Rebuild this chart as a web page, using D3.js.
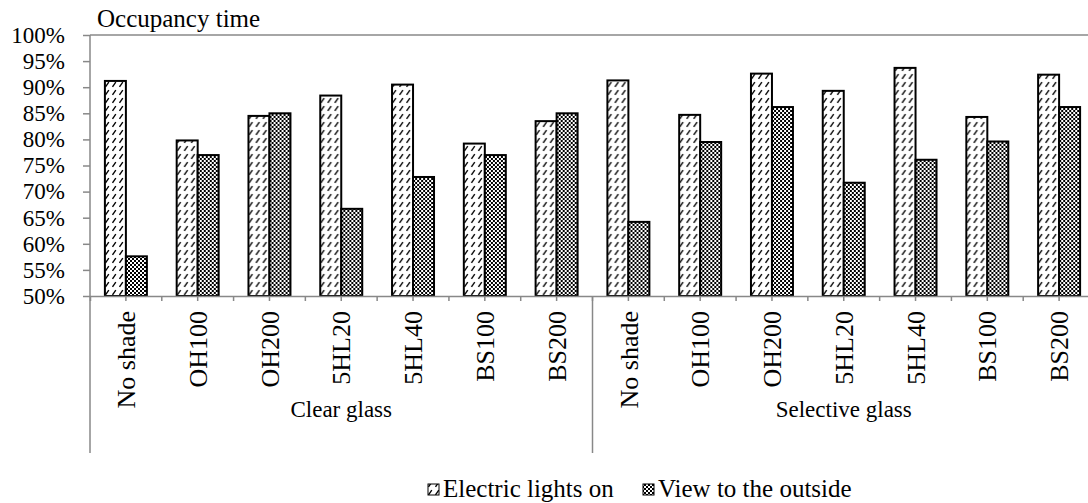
<!DOCTYPE html>
<html><head><meta charset="utf-8">
<script src="https://cdn.jsdelivr.net/npm/d3@7"></script>
<style>
html,body{margin:0;padding:0;background:#fff;overflow:hidden}
text{font-family:"Liberation Serif","Times New Roman",serif;fill:#000}
</style></head>
<body>
<svg id="chart" width="1088" height="503"></svg>
<script>
const groups = ["Clear glass", "Selective glass"];
const shades = ["No shade", "OH100", "OH200", "5HL20", "5HL40", "BS100", "BS200"];
const seriesNames = ["Electric lights on", "View to the outside"];
const electricClear = [0.912, 0.798, 0.845, 0.884, 0.905, 0.792, 0.835];
const viewClear     = [0.576, 0.770, 0.850, 0.667, 0.728, 0.770, 0.850];
const electricSel   = [0.913, 0.847, 0.926, 0.893, 0.937, 0.843, 0.924];
const viewSel       = [0.642, 0.795, 0.862, 0.717, 0.761, 0.796, 0.862];
const yTicks = [0.5, 0.55, 0.6, 0.65, 0.7, 0.75, 0.8, 0.85, 0.9, 0.95, 1.0];
const yTitle = "Occupancy time";

const data = [];
groups.forEach((g, gi) => shades.forEach((s, si) => {
  const e = gi === 0 ? electricClear[si] : electricSel[si];
  const v = gi === 0 ? viewClear[si] : viewSel[si];
  data.push({key: g + "|" + s, group: g, shade: s, values: [e, v]});
}));

const svg = d3.select("#chart");
const X0 = 90, X1 = 1095, YT = 35, YB = 296;
const gray = "#888";

const defs = svg.append("defs");
const p1 = defs.append("pattern").attr("id", "pDash").attr("patternUnits", "userSpaceOnUse")
  .attr("width", 7).attr("height", 8);
p1.append("rect").attr("width", 7).attr("height", 8).attr("fill", "#fff");
p1.append("path").attr("d", "M1.5,6.8 L4.8,2.2").attr("stroke", "#000").attr("stroke-width", 1.4);
const p2 = defs.append("pattern").attr("id", "pCheck").attr("patternUnits", "userSpaceOnUse")
  .attr("width", 4).attr("height", 4);
p2.append("rect").attr("width", 4).attr("height", 4).attr("fill", "#fff");
p2.append("rect").attr("width", 2).attr("height", 2).attr("fill", "#000");
p2.append("rect").attr("x", 2).attr("y", 2).attr("width", 2).attr("height", 2).attr("fill", "#000");
const fills = ["url(#pDash)", "url(#pCheck)"];

const x = d3.scaleBand().domain(data.map(d => d.key)).range([X0, X1]).padding(0);
const xs = d3.scaleBand().domain(seriesNames).range([0, x.bandwidth()]).paddingInner(0).paddingOuter(0.71);
const y = d3.scaleLinear().domain([0.5, 1]).range([YB, YT]);

svg.append("line").attr("x1", X0).attr("x2", X1).attr("y1", y(1)).attr("y2", y(1))
  .attr("stroke", gray).attr("stroke-width", 1.5);

const cat = svg.append("g").selectAll("g").data(data).join("g")
  .attr("transform", d => `translate(${x(d.key)},0)`);
cat.selectAll("rect").data(d => d.values.map((v, i) => ({v, i}))).join("rect")
  .attr("x", d => xs(seriesNames[d.i]))
  .attr("width", xs.bandwidth())
  .attr("y", d => y(d.v))
  .attr("height", d => y(0.5) - y(d.v))
  .attr("fill", d => fills[d.i])
  .attr("stroke", "#000").attr("stroke-width", 2);

const yAxis = svg.append("g").attr("transform", `translate(${X0},0)`)
  .call(d3.axisLeft(y).tickValues(yTicks).tickSize(7).tickPadding(18).tickFormat(d3.format(".0%")));
yAxis.select(".domain").remove();
yAxis.selectAll(".tick line").attr("stroke", gray).attr("stroke-width", 1.5);
yAxis.selectAll(".tick text").attr("font-size", 23).attr("font-family", "Liberation Serif, serif").attr("fill", "#000");
svg.append("line").attr("x1", X0).attr("x2", X0).attr("y1", YT).attr("y2", 453)
  .attr("stroke", gray).attr("stroke-width", 1.5);

const xAxis = svg.append("g").attr("transform", `translate(0,${YB})`)
  .call(d3.axisBottom(x).tickSize(5).tickFormat(""));
xAxis.select(".domain").attr("stroke", gray).attr("stroke-width", 1.5);
xAxis.selectAll(".tick line").attr("stroke", gray).attr("stroke-width", 1.5);
svg.append("g").selectAll("line").data(data.slice(1)).join("line")
  .attr("x1", d => x(d.key)).attr("x2", d => x(d.key))
  .attr("y1", YB).attr("y2", YB + 5).attr("stroke", gray).attr("stroke-width", 1.5);

svg.append("g").selectAll("text").data(data).join("text")
  .attr("transform", d => `translate(${x(d.key) + x.bandwidth() / 2},311) rotate(-90)`)
  .attr("dy", "0.35em").attr("text-anchor", "end").attr("font-size", 26)
  .text(d => d.shade);

groups.forEach((g, gi) => {
  const keys = data.filter(d => d.group === g).map(d => d.key);
  const gx0 = x(keys[0]), gx1 = x(keys[keys.length - 1]) + x.bandwidth();
  if (gi > 0) {
    svg.append("line").attr("x1", gx0).attr("x2", gx0).attr("y1", YB).attr("y2", 453)
      .attr("stroke", gray).attr("stroke-width", 1.5);
  }
  svg.append("text").attr("x", (gx0 + gx1) / 2).attr("y", 417)
    .attr("text-anchor", "middle").attr("font-size", 23).text(g);
});

svg.append("text").attr("x", 97).attr("y", 27).attr("font-size", 25).text(yTitle);

const legX = [428, 643];
seriesNames.forEach((n, i) => {
  svg.append("rect").attr("x", legX[i]).attr("y", 484).attr("width", 11).attr("height", 11)
    .attr("fill", fills[i]).attr("stroke", "#000").attr("stroke-width", 1);
  svg.append("text").attr("x", legX[i] + 15).attr("y", 497).attr("font-size", 25).text(n);
});
</script>
</body></html>
